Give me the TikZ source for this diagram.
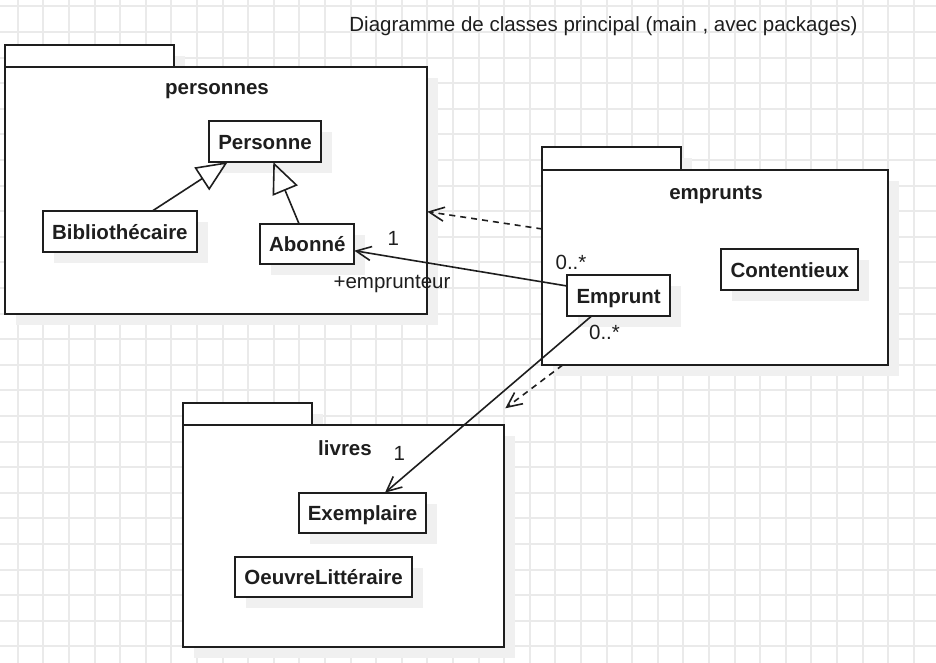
\documentclass[tikz,border=0pt]{standalone}
\usepackage{fontspec}
\setmainfont{Liberation Sans}
\usetikzlibrary{arrows.meta,shadows,calc}
\definecolor{gridc}{RGB}{234,234,234}
\definecolor{shadowc}{RGB}{240,240,240}
\definecolor{linec}{RGB}{30,30,30}
\definecolor{txtc}{RGB}{30,30,30}
\begin{document}
\begin{tikzpicture}[x=1pt,y=-1pt,
  every node/.style={font=\fontsize{20.5}{24}\selectfont, text=txtc},
  fixed/.style={text height=15.5pt,text depth=0pt},
  shad/.style={drop shadow={shadow xshift=11pt,shadow yshift=-11pt,fill=shadowc,opacity=1}},
  box/.style={draw=linec,line width=1.7pt,fill=white,shad,inner sep=0pt,outer sep=0pt,anchor=north west},
  cls/.style={box,fixed,font=\fontsize{20.5}{24}\selectfont\bfseries},
  ptitle/.style={fixed,inner sep=0pt,font=\fontsize{20.5}{24}\selectfont\bfseries},
  lbl/.style={inner sep=0pt},
  inh/.style={draw=linec,line width=1.6pt,-{Triangle[open,length=31pt,width=27pt]}},
  assoc/.style={draw=linec,line width=1.6pt,-{Straight Barb[length=15pt,width=14pt]}},
  dep/.style={assoc,dash pattern=on 6pt off 5pt}
]
\useasboundingbox (0,0) rectangle (936,663);
\fill[white] (0,0) rectangle (936,663);
% grid
\foreach \i in {0,...,35} {
  \pgfmathsetmacro{\gx}{round(17.7+25.6*\i)}
  \draw[gridc,line width=2pt] (\gx,0) -- (\gx,663);
}
\foreach \j in {0,...,25} {
  \pgfmathsetmacro{\gy}{round(6.3+25.6*\j)}
  \draw[gridc,line width=2pt] (0,\gy) -- (936,\gy);
}

% title
\node[name=title] at (603.5,26) {Diagramme de classes principal (main , avec packages)};

% package personnes
\node[box,minimum width=168.7pt,minimum height=22.3pt] (pers-tab) at (5,45) {};
\node[box,minimum width=422.3pt,minimum height=246.7pt] (persPkg) at (5,67.3) {};
\node[ptitle] (persTitle) at (217,86.5) {personnes};

% package emprunts
\node[box,minimum width=138.4pt,minimum height=22.7pt] (emp-tab) at (542.3,147.3) {};
\node[box,minimum width=346pt,minimum height=195pt] (empPkg) at (542.3,170) {};
\node[ptitle] (empTitle) at (716,191.3) {emprunts};

% package livres
\node[box,minimum width=129pt,minimum height=21.7pt] (liv-tab) at (183.3,403.3) {};
\node[box,minimum width=321pt,minimum height=221.7pt] (livPkg) at (183.3,425) {};
\node[ptitle] (livTitle) at (345,447.3) {livres};

% classes
\node[cls,minimum width=111.4pt,minimum height=40.7pt] (pers) at (209.3,121.3) {Personne};
\node[cls,minimum width=154.3pt,minimum height=40.7pt] (bib) at (42.7,211) {Bibliothécaire};
\node[cls,minimum width=94pt,minimum height=40.3pt] (abo) at (260.3,223.7) {Abonné};
\node[cls,minimum width=102.7pt,minimum height=40.7pt] (emp) at (567.3,275) {Emprunt};
\node[cls,minimum width=137pt,minimum height=40.7pt] (cont) at (721.3,249.3) {Contentieux};
\node[cls,minimum width=127.6pt,minimum height=40.6pt] (exem) at (298.7,492.7) {Exemplaire};
\node[cls,minimum width=177.3pt,minimum height=40.3pt] (oeuv) at (235,556.7) {OeuvreLittéraire};

% inheritance
\draw[inh] ($(bib.north)+(32.5,0)$) -- ($(pers.south)+(-37.3,0)$);
\draw[inh] ($(abo.north)+(-8.3,0)$) -- ($(pers.south)+(8.3,0)$);

% associations
\draw[assoc] ($(emp.west)+(0,-9.3)$) -- ($(abo.east)+(0,6.85)$);
\draw[assoc] ($(emp.south)+(-26.7,0)$) -- ($(exem.north)+(22.5,0)$);

% dependencies
\coordinate (livTip) at ($(livPkg.north east)+(1,-16.7)$);
\draw[dep] ($(empPkg.west)+(0,-38.5)$) -- ($(persPkg.east)+(0,21)$);
\draw[dep] ($(empPkg.south)+(-152.6,0)$) -- (livTip);

% multiplicity labels
\node[lbl] (m1) at (393.3,238) {1};
\node[lbl] (role) at (392,283.5) {+emprunteur};
\node[lbl] (m2) at (571,262) {0..*};
\node[lbl] (m3) at (604.5,332.5) {0..*};
\node[lbl] (m4) at (399.3,453) {1};
\end{tikzpicture}
\end{document}
